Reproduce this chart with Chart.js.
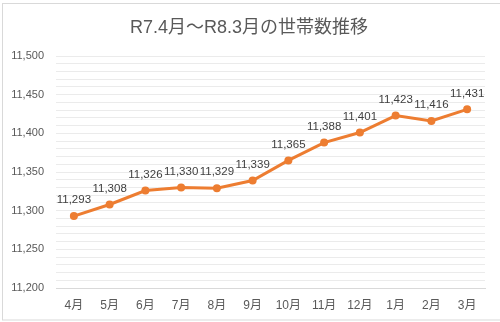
<!DOCTYPE html>
<html>
<head>
<meta charset="utf-8">
<script src="https://cdn.jsdelivr.net/npm/chart.js@4"></script>
<style>
  body { margin: 0; background: #fff; }
  #wrap { width: 500px; height: 322px; }
</style>
</head>
<body>
<div id="wrap"><canvas id="household-chart"></canvas></div>
<script>
// monthly household count, R7.4 - R8.3
const months = ['4月', '5月', '6月', '7月', '8月', '9月', '10月', '11月', '12月', '1月', '2月', '3月'];
const households = [11293, 11308, 11326, 11330, 11329, 11339, 11365, 11388, 11401, 11423, 11416, 11431];
const yTicks = [11200, 11250, 11300, 11350, 11400, 11450, 11500];
const chartTitle = 'R7.4月～R8.3月の世帯数推移';

const labelFont = '"Liberation Sans", "Noto Sans CJK JP", sans-serif';

// outer frame and title of the chart object
const framePlugin = {
    id: 'frame',
    beforeDraw(chart) {
        const ctx = chart.ctx;
        ctx.save();
        ctx.strokeStyle = '#d9d9d9';
        ctx.lineWidth = 1;
        ctx.strokeRect(2.5, 3.5, 600, 316.5);
        ctx.font = '18px ' + labelFont;
        ctx.fillStyle = '#595959';
        ctx.textAlign = 'center';
        ctx.textBaseline = 'middle';
        ctx.fillText(chartTitle, 249, 28);
        ctx.restore();
    }
};

// value above every point
const valueLabels = {
    id: 'valueLabels',
    afterDatasetsDraw(chart) {
        const ctx = chart.ctx;
        const meta = chart.getDatasetMeta(0);
        ctx.save();
        ctx.font = '11.5px ' + labelFont;
        ctx.fillStyle = '#404040';
        ctx.textAlign = 'center';
        ctx.textBaseline = 'middle';
        meta.data.forEach(function (pt, i) {
            ctx.fillText(households[i].toLocaleString('en-US'), pt.x, pt.y - 16);
        });
        ctx.restore();
    }
};

const ctx = document.getElementById('household-chart').getContext('2d');
const householdChart = new Chart(ctx, {
    type: 'line',
    data: {
        labels: months,
        datasets: [{
            data: households,
            borderColor: '#ed7d31',
            backgroundColor: '#ed7d31',
            borderWidth: 3,
            pointRadius: 4,
            pointBorderWidth: 0,
            tension: 0
        }]
    },
    plugins: [framePlugin, valueLabels],
    options: {
        responsive: true,
        maintainAspectRatio: false,
        animation: false,
        layout: { padding: { left: 0, right: 15, top: 56, bottom: 0 } },
        plugins: {
            legend: { display: false },
            tooltip: { enabled: false },
            title: { display: false }
        },
        scales: {
            x: {
                offset: true,
                grid: { display: false, drawTicks: false },
                border: { color: '#d9d9d9' },
                ticks: {
                    color: '#595959',
                    font: { family: labelFont, size: 12 },
                    padding: 10,
                    maxRotation: 0,
                    autoSkip: false
                },
                afterFit(scale) { scale.height = 34; }
            },
            y: {
                min: 11200,
                max: 11500,
                afterBuildTicks(scale) {
                    // gridline every 10, labels only on the multiples of 50
                    const t = [];
                    for (let v = 11200; v <= 11500; v += 10) t.push({ value: v });
                    scale.ticks = t;
                },
                grid: { color: '#ebebeb', drawTicks: false },
                border: { display: false },
                ticks: {
                    color: '#595959',
                    font: { family: labelFont, size: 11 },
                    padding: 12,
                    autoSkip: false,
                    callback(v) {
                        return yTicks.includes(v) ? v.toLocaleString('en-US') : '';
                    }
                },
                afterFit(scale) { scale.width = 56; }
            }
        }
    }
});
</script>
</body>
</html>
